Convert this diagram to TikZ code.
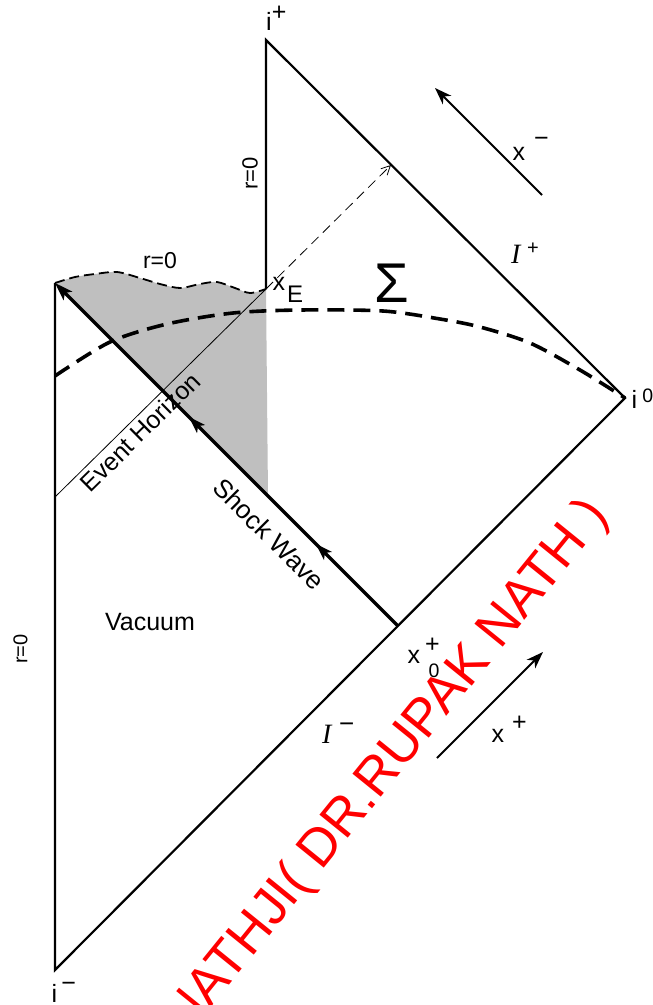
\documentclass[tikz,border=0pt]{standalone}
\usepackage{fontspec}
\setmainfont{Liberation Sans}
\newfontfamily\seriffam{Liberation Serif}
\usetikzlibrary{arrows.meta,decorations.markings}
\newcommand\fs[1]{\fontsize{#1}{#1}\selectfont}
\begin{document}
\begin{tikzpicture}[x=1pt,y=-1pt,
  frame/.style={line width=2.2pt},
  shockline/.style={line width=3.2pt},
  ehline/.style={line width=0.8pt},
  sigmaline/.style={line width=3.6pt, dash pattern=on 17pt off 9pt},
  singline/.style={line width=1.8pt, dash pattern=on 10pt off 5pt},
  coordarrow/.style={line width=2pt, -{Stealth[length=17pt,width=12pt,inset=5pt]}},
  lbl/.style={inner sep=0pt, font=\fs{25}},
  wm/.style={inner sep=0pt, text=red, font=\fs{53}}]
\useasboundingbox (0,0) rectangle (653,1005);
\clip (0,0) rectangle (653,1005);
% key points
\coordinate (iplus) at (266,40);
\coordinate (izero) at (625,398);
\coordinate (iminus) at (55,970);
\coordinate (tl) at (55,283);
\coordinate (xE) at (266,289);
\coordinate (x0) at (398,626);
\coordinate (shb) at (268,496);
\coordinate (ehs) at (55,497);
\coordinate (ehe) at (391,165);
% shaded region
\fill[black!25] plot[smooth] coordinates {(55,283) (75,277) (95,274) (117,272) (140,278) (160,284) (180,288) (200,284) (217,282) (235,288) (250,293) (266,289)} -- (shb) -- cycle;
% singularity r=0 (wavy dashed)
\draw[singline] plot[smooth] coordinates {(55,283) (75,277) (95,274) (117,272) (140,278) (160,284) (180,288) (200,284) (217,282) (235,288) (250,293) (266,289)};
% frame
\draw[frame] (tl) -- (iminus) -- (izero) -- (iplus) -- (xE);
% Sigma surface
\draw[sigmaline] plot[smooth] coordinates {(55,376) (110,342) (167,324) (233,313) (300,310) (383,311) (440,319) (480,327) (530,343) (580,370) (625,398)};
% event horizon
\draw[ehline] (ehs) -- (xE);
\draw[ehline, dash pattern=on 10pt off 6pt, -{Straight Barb[length=9pt,width=9pt]}] (xE) -- (ehe);
% shock wave
\draw[shockline, -{Stealth[length=18pt,width=12pt,inset=4pt]},
  postaction={decorate},
  decoration={markings,
    mark=at position 0.24 with {\arrow{Stealth[length=17pt,width=11pt,inset=4pt]}},
    mark=at position 0.61 with {\arrow{Stealth[length=17pt,width=11pt,inset=4pt]}}}]
  (x0) -- (tl);
% coordinate arrows
\coordinate (xma) at (542,195);
\coordinate (xmb) at (435,88);
\coordinate (xpa) at (437,758);
\coordinate (xpb) at (543,652);
\draw[coordarrow] (xma) -- (xmb);
\draw[coordarrow] (xpa) -- (xpb);
% labels
\node[lbl, anchor=base west] (lip) at (266,30) {i\raisebox{10pt}{+}};
\node[lbl, anchor=base west] (li0) at (631.5,408) {i\kern5pt\raisebox{6pt}{\fs{19.5}0}};
\node[lbl, anchor=base west] (lim) at (51.5,1002) {i\kern4pt\raisebox{11pt}{−}};
\node[lbl, anchor=base west] (lxm) at (512.5,160) {x\kern9pt\raisebox{13.7pt}{−}};
\node[lbl, anchor=base west] (lxp) at (491.5,742) {x\kern8pt\raisebox{11.7pt}{+}};
\node[lbl, anchor=base west] (lx0) at (407.5,663) {x\kern5pt\rlap{\raisebox{10.7pt}{+}}\kern3.5pt\raisebox{-14pt}{\fs{19.5}0}};
\node[lbl, anchor=base west] (lxE) at (272.5,290) {x\kern2pt\raisebox{-12pt}{\fs{24}E}};
\node[lbl, anchor=base west] (lIp) at (511,263) {{\seriffam\itshape\fs{28}I}\kern6.5pt\raisebox{8.5pt}{\fs{20}+}};
\node[lbl, anchor=base west] (lIm) at (322,743) {{\seriffam\itshape\fs{28}I}\kern7.5pt\raisebox{10.4pt}{\fs{26}−}};
\node[lbl, anchor=base west, font=\fs{56}] (lsig) at (374,302) {Σ};
\node[lbl, anchor=base] (lvac) at (150,630) {Vacuum};
\node[lbl, anchor=base, font=\fs{23}] (lr1) at (160,268) {r=0};
\node[lbl, rotate=90, font=\fs{22}] (lr2) at (250,173.5) {r=0};
\node[lbl, rotate=90, font=\fs{20}] (lr3) at (20.5,649) {r=0};
\node[lbl, rotate=44.6] (leh) at (140,432) {Event Horizon};
\node[lbl, rotate=-45, font=\fs{26}] (lsw) at (269,534) {Shock Wave};
% watermark
\node[wm, anchor=base, rotate=51] (wmk) at (398,777) {NATHJI( DR.RUPAK NATH )};
\end{tikzpicture}
\end{document}
